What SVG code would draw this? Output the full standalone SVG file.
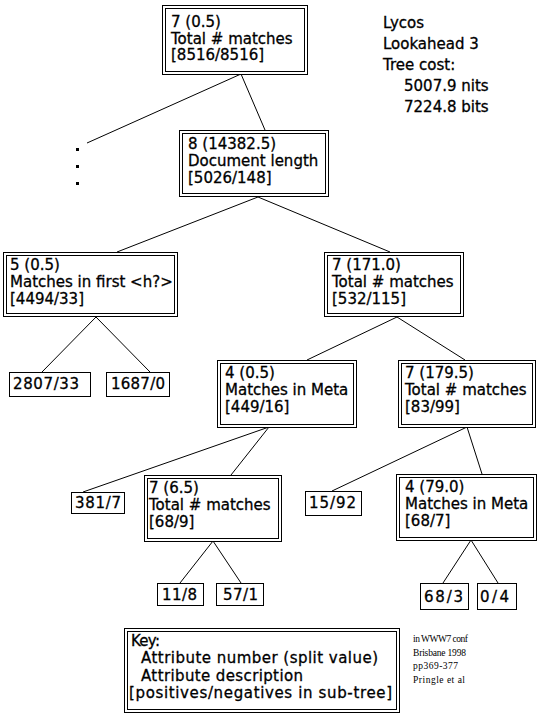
<svg xmlns="http://www.w3.org/2000/svg" width="539" height="720" viewBox="0 0 539 720">
<style>
.bx{fill:#fff;stroke:#000;stroke-width:1}
.t{font-family:"DejaVu Sans",Verdana,sans-serif;font-size:15px;fill:#000;stroke:#000;stroke-width:0.3}
.k{font-family:"DejaVu Sans",Verdana,sans-serif;font-size:15px;fill:#000;stroke:#000;stroke-width:0.3}
.c{font-family:"Liberation Serif","Times New Roman",serif;font-size:9.5px;fill:#000}
.ln{stroke:#000;stroke-width:1;fill:none}
</style>
<rect width="539" height="720" fill="#fff"/>
<g id="connectors" class="ln">
<line x1="241" y1="74" x2="87" y2="143"/>
<line x1="241" y1="74" x2="265" y2="130"/>
<line x1="258" y1="197" x2="117" y2="252"/>
<line x1="258" y1="197" x2="390" y2="252"/>
<line x1="96" y1="317" x2="42" y2="372"/>
<line x1="96" y1="317" x2="150" y2="372"/>
<line x1="397" y1="317" x2="307" y2="360"/>
<line x1="397" y1="317" x2="465" y2="360"/>
<line x1="269" y1="427" x2="83" y2="492"/>
<line x1="269" y1="427" x2="231" y2="475"/>
<line x1="467" y1="427" x2="332" y2="491"/>
<line x1="467" y1="427" x2="482" y2="474"/>
<line x1="213" y1="541" x2="180" y2="583"/>
<line x1="213" y1="541" x2="241" y2="583"/>
<line x1="471" y1="540" x2="443" y2="583"/>
<line x1="471" y1="540" x2="498" y2="583"/>
</g>
<g id="ellipsis">
<rect x="76" y="148" width="3" height="3" fill="#000"/>
<rect x="76" y="165" width="3" height="3" fill="#000"/>
<rect x="76" y="182" width="3" height="3" fill="#000"/>
</g>
<g id="info">
<text class="t" x="383" y="28">Lycos</text>
<text class="t" x="383" y="49">Lookahead 3</text>
<text class="t" x="383" y="70">Tree cost:</text>
<text class="t" x="404" y="91">5007.9 nits</text>
<text class="t" x="404" y="112">7224.8 bits</text>
</g>
<g id="n1">
<rect class="bx" x="162.5" y="5.5" width="145" height="69"/>
<rect class="bx" x="165.5" y="8.5" width="139" height="63"/>
<text class="t" x="171" y="27">7 (0.5)</text>
<text class="t" x="171" y="43.5">Total # matches</text>
<text class="t" x="171" y="60">[8516/8516]</text>
</g>
<g id="n2">
<rect class="bx" x="179.5" y="130.5" width="149" height="66"/>
<rect class="bx" x="182.5" y="133.5" width="143" height="60"/>
<text class="t" x="188" y="149">8 (14382.5)</text>
<text class="t" x="188" y="166">Document length</text>
<text class="t" x="188" y="183">[5026/148]</text>
</g>
<g id="n3">
<rect class="bx" x="3.5" y="252.5" width="174" height="64"/>
<rect class="bx" x="6.5" y="255.5" width="168" height="58"/>
<text class="t" x="10" y="270">5 (0.5)</text>
<text class="t" x="10" y="287">Matches in first &lt;h?&gt;</text>
<text class="t" x="10" y="304">[4494/33]</text>
</g>
<g id="n4">
<rect class="bx" x="324.5" y="252.5" width="139" height="64"/>
<rect class="bx" x="327.5" y="255.5" width="133" height="58"/>
<text class="t" x="332" y="270">7 (171.0)</text>
<text class="t" x="332" y="287">Total # matches</text>
<text class="t" x="332" y="304">[532/115]</text>
</g>
<g id="l1">
<rect class="bx" x="9.5" y="372.5" width="81" height="24"/>
<text class="t" x="13" y="389" textLength="66" lengthAdjust="spacing">2807/33</text>
</g>
<g id="l2">
<rect class="bx" x="106.5" y="372.5" width="63" height="24"/>
<text class="t" x="111" y="389" textLength="54" lengthAdjust="spacing">1687/0</text>
</g>
<g id="n5">
<rect class="bx" x="217.5" y="360.5" width="139" height="67"/>
<rect class="bx" x="220.5" y="363.5" width="133" height="61"/>
<text class="t" x="225" y="378">4 (0.5)</text>
<text class="t" x="225" y="395">Matches in Meta</text>
<text class="t" x="225" y="412">[449/16]</text>
</g>
<g id="n6">
<rect class="bx" x="398.5" y="360.5" width="137" height="67"/>
<rect class="bx" x="401.5" y="363.5" width="131" height="61"/>
<text class="t" x="405" y="378">7 (179.5)</text>
<text class="t" x="405" y="395">Total # matches</text>
<text class="t" x="405" y="412">[83/99]</text>
</g>
<g id="l3">
<rect class="bx" x="71.5" y="492.5" width="53" height="21"/>
<text class="t" x="75" y="508" textLength="46" lengthAdjust="spacing">381/7</text>
</g>
<g id="n7">
<rect class="bx" x="144.5" y="475.5" width="137" height="66"/>
<rect class="bx" x="147.5" y="478.5" width="131" height="60"/>
<text class="t" x="149" y="493">7 (6.5)</text>
<text class="t" x="149" y="510">Total # matches</text>
<text class="t" x="149" y="527">[68/9]</text>
</g>
<g id="l4">
<rect class="bx" x="305.5" y="491.5" width="56" height="24"/>
<text class="t" x="309" y="508" textLength="47" lengthAdjust="spacing">15/92</text>
</g>
<g id="n8">
<rect class="bx" x="396.5" y="474.5" width="140" height="66"/>
<rect class="bx" x="399.5" y="477.5" width="134" height="60"/>
<text class="t" x="405" y="492">4 (79.0)</text>
<text class="t" x="405" y="509">Matches in Meta</text>
<text class="t" x="405" y="526">[68/7]</text>
</g>
<g id="l5">
<rect class="bx" x="157.5" y="583.5" width="46" height="22"/>
<text class="t" x="162" y="600" textLength="35" lengthAdjust="spacing">11/8</text>
</g>
<g id="l6">
<rect class="bx" x="216.5" y="583.5" width="47" height="22"/>
<text class="t" x="223" y="600" textLength="35" lengthAdjust="spacing">57/1</text>
</g>
<g id="l7">
<rect class="bx" x="420.5" y="583.5" width="48" height="26"/>
<text class="t" x="424" y="602" textLength="39" lengthAdjust="spacing">68/3</text>
</g>
<g id="l8">
<rect class="bx" x="477.5" y="583.5" width="39" height="26"/>
<text class="t" x="480" y="602" textLength="29" lengthAdjust="spacing">0/4</text>
</g>
<g id="key">
<rect class="bx" x="124.5" y="628.5" width="275" height="84"/>
<rect class="bx" x="127.5" y="631.5" width="269" height="78"/>
<text class="k" x="131" y="646" textLength="29" lengthAdjust="spacing">Key:</text>
<text class="k" x="141" y="663" textLength="237" lengthAdjust="spacing">Attribute number (split value)</text>
<text class="k" x="141" y="681" textLength="162" lengthAdjust="spacing">Attribute description</text>
<text class="k" x="129" y="698" textLength="263" lengthAdjust="spacing">[positives/negatives in sub-tree]</text>
</g>
<g id="citation">
<text class="c" x="413" y="642" textLength="55" lengthAdjust="spacing">in WWW7 conf</text>
<text class="c" x="413" y="656" textLength="53" lengthAdjust="spacing">Brisbane 1998</text>
<text class="c" x="413" y="669" textLength="45" lengthAdjust="spacing">pp369-377</text>
<text class="c" x="413" y="683" textLength="52" lengthAdjust="spacing">Pringle et al</text>
</g>
</svg>
